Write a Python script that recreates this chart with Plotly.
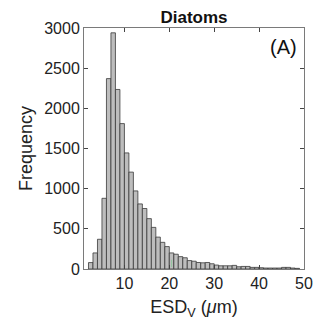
import plotly.graph_objects as go

bin_left = list(range(2, 49))
counts = [80, 200, 370, 880, 2370, 2940, 2235, 1810, 1445, 1206,
          972, 810, 753, 627, 518, 397, 332, 279, 200, 184,
          154, 140, 105, 97, 81, 77, 81, 65, 49, 40,
          40, 40, 45, 28, 32, 32, 20, 20, 16, 12,
          12, 12, 12, 20, 20, 12, 8]
x_ticks = [10, 20, 30, 40, 50]
y_ticks = [0, 500, 1000, 1500, 2000, 2500, 3000]

# small green overlay mark visible inside one bar
green_x = [20.5]
green_base = [25]
green_h = [90]

centers = [b + 0.5 for b in bin_left]
font = "Liberation Sans, Arial, sans-serif"

fig = go.Figure()
fig.add_trace(go.Bar(x=centers, y=counts, width=1.0,
                     marker=dict(color="#bdbdbd", line=dict(color="#3a3a3a", width=0.8)),
                     showlegend=False))
fig.add_trace(go.Bar(x=green_x, y=green_h, base=green_base, width=0.25,
                     marker=dict(color="rgba(120,200,140,0.6)", line=dict(width=0)),
                     showlegend=False))

# the page body adds an 8px margin, so the figure is sized to fit the window
fig.update_layout(
    width=321, height=318,
    margin=dict(l=76, r=25, t=15, b=56),
    paper_bgcolor="white", plot_bgcolor="white",
    barmode="overlay",
    font=dict(family=font, size=16, color="#222"),
    title=dict(text="<b>Diatoms</b>", xref="paper", x=0.5, xanchor="center",
               yref="container", y=0.99, yanchor="top", pad=dict(t=0, b=0),
               font=dict(size=17, color="#111")),
    xaxis=dict(range=[1, 50], tickvals=x_ticks, ticks="inside", ticklen=4,
               showline=True, linecolor="#7a7a7a", linewidth=1, mirror="ticks",
               showgrid=False, zeroline=False, tickfont=dict(size=16),
               title=dict(text="ESD<sub>V</sub> (<i>μ</i>m)", standoff=9, font=dict(size=18))),
    yaxis=dict(range=[0, 3000], tickvals=y_ticks, ticks="inside", ticklen=4,
               showline=True, linecolor="#7a7a7a", linewidth=1, mirror="ticks",
               showgrid=False, zeroline=False, tickfont=dict(size=16),
               title=dict(text="Frequency", standoff=6, font=dict(size=18))),
    annotations=[dict(text="(A)", xref="paper", yref="paper", x=0.975, y=0.975,
                      xanchor="right", yanchor="top", showarrow=False,
                      font=dict(size=20, color="#111"))],
)

fig.write_html("out.html")
